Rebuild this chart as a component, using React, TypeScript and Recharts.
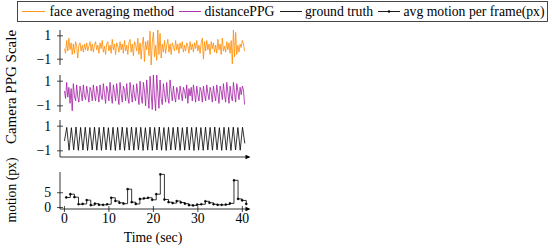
import React from "react";
import { LineChart, Line, XAxis, YAxis } from "recharts";

const FONT = "'Liberation Serif', 'Times New Roman', serif";
const FS = 13.7;

// ---- data ----
const SIGNAL_STEP = 0.25; // seconds between samples
const faceValues = [
  -0.1, -0.5, 0.6, -0.3, 0.8, -0.2, 0.4, -0.6, 0.3, -0.5, 0.5, 0.1, -0.9, 0.2, 0.4, -0.3,
  0.2, -0.4, 0.3, -0.2, 0.4, -0.3, 0.1, 0.5, -0.3, 0.3, -0.4, 0.2, 0.5, -0.2, 0.2, -0.5,
  0.4, -0.1, 0.6, -0.4, 0.1, -0.6, 0.3, 0.5, -0.3, 0.2, -0.5, 0.7, -0.2, 0.3, -0.6, 0.4,
  0.1, -0.4, 0.5, -0.2, 0.3, -0.5, 0.6, -0.3, 0.2, -0.6, 0.4, 0.7, -0.4, 0.3, -0.7, 0.5,
  0.2, -0.3, 0.8, -0.6, 0.4, -1.0, 0.3, 0.9, -1.2, 0.5, -0.2, 0.6, -0.7, 1.4, -1.5, 0.4,
  1.3, -0.8, 0.2, -1.1, 1.5, -0.6, 1.2, -0.9, 0.3, -0.4, 0.6, -0.5, 0.2, 0.7, -0.4, 0.3,
  -0.6, 0.4, 0.1, -0.3, 0.6, -0.2, 0.3, -0.5, 0.4, -0.1, 0.5, -0.4, 0.2, -0.3, 0.4, 0.1,
  -0.5, 0.5, -0.2, 0.3, -0.4, 0.4, -0.1, 0.6, -0.3, 0.2, -0.5, 0.4, 0.8, -1.0, 0.5, -0.3,
  0.6, -0.2, 0.3, -0.6, 0.5, -0.1, 0.4, -0.4, 0.2, -0.5, 0.7, -0.2, 0.3, -0.6, 0.8, -0.3,
  0.1, -0.4, 0.5, -0.2, 0.4, -0.5, 0.6, -1.4, 1.5, -0.8, 1.3, -0.6, 0.2, -0.4, 0.3, 0.0,
  0.6, 0.3, -0.3,
];
const distanceValues = [
  0.2, -0.4, 0.9, -0.3, 0.5, -0.8, 0.4, -1.4, 0.8, -0.2, -0.6, 0.7, -0.3, -0.7, 0.6, 0.1,
  -0.6, 0.7, -0.2, -0.5, 0.6, 0.0, -0.7, 0.5, 0.2, -0.6, 0.7, -0.1, -0.6, 0.6, 0.1, -0.7,
  0.7, -0.2, -0.5, 0.8, 0.0, -0.8, 0.6, 0.2, -0.6, 0.9, -0.1, -0.8, 0.7, 0.1, -0.6, 0.8,
  -0.1, -0.9, 0.9, 0.0, -0.7, 0.6, 0.3, -0.6, 0.8, -0.3, -0.8, 0.9, 0.1, -0.7, 0.7, -0.2,
  -0.6, 0.8, 0.0, -0.9, 1.0, -0.2, -0.8, 0.9, 0.2, -1.0, 1.1, -0.1, -1.2, 1.4, 0.0, -1.3,
  1.5, -0.3, -1.4, 1.5, 0.1, -1.2, 1.1, -0.4, -0.9, 0.8, 0.0, -0.7, 0.9, -0.3, -0.8, 1.1,
  0.2, -0.6, 0.6, -0.2, -0.7, 0.5, 0.1, -0.5, 0.6, 0.0, -0.6, 0.5, 0.2, -0.4, 0.7, -0.8,
  0.4, -0.2, 0.5, -0.6, 0.7, 0.0, -0.7, 0.6, -0.1, -0.6, 0.5, 0.2, -0.7, 0.6, -0.1, -0.6,
  0.7, 0.0, -0.5, 0.5, 0.1, -0.7, 0.6, -0.1, -0.6, 0.7, 0.0, -0.8, 0.6, 0.2, -0.5, 0.8,
  -0.1, -0.7, 0.9, 0.1, -0.8, 0.6, -0.2, -0.6, 0.9, 0.0, -0.7, 0.8, 0.2, -0.5, 0.5, -0.1,
  0.6, 0.3, -0.9,
];
const TRUTH_STEP = 0.52;
const truthValues = [
  -0.2, 0.9, -0.95, 0.88, -0.92, 0.93, -0.96, 0.9, -0.94, 0.91, -0.97, 0.89, -0.93, 0.92,
  -0.95, 0.9, -0.96, 0.93, -0.92, 0.88, -0.95, 0.91, -0.97, 0.9, -0.93, 0.92, -0.96, 0.89,
  -0.94, 0.93, -0.95, 0.9, -0.92, 0.91, -0.97, 0.88, -0.94, 0.92, -0.96, 0.9, -0.93, 0.93,
  -0.95, 0.89, -0.97, 0.91, -0.94, 0.9, -0.92, 0.92, -0.96, 0.88, -0.95, 0.93, -0.93, 0.9,
  -0.97, 0.91, -0.94, 0.89, -0.96, 0.92, -0.93, 0.9, -0.95, 0.93, -0.92, 0.88, -0.96, 0.91,
  -0.94, 0.9, -0.97, 0.92, -0.93, 0.89, -0.95, 0.91, -0.4,
];
const motionTimes = [
  0.4, 1.32, 2.24, 3.16, 4.08, 5.0, 5.92, 6.84, 7.76, 8.68, 9.6, 10.52, 11.44, 12.36, 13.28,
  14.2, 15.12, 16.04, 16.96, 17.88, 18.8, 19.72, 20.64, 21.56, 22.48, 23.4, 24.32, 25.24,
  26.16, 27.08, 28.0, 28.92, 29.84, 30.76, 31.68, 32.6, 33.52, 34.44, 35.36, 36.28, 37.2,
  38.12, 39.04, 39.96, 40.88,
];
const motionValues = [
  3.4, 4.5, 3.5, 1.1, 1.2, 2.5, 0.8, 1.3, 0.9, 0.9, 1.1, 3.3, 2.2, 1.6, 1.3,
  6.2, 1.8, 1.2, 2.9, 3.1, 3.3, 2.6, 4.5, 11.2, 2.7, 1.8, 1.5, 2.2,
  1.7, 1.3, 0.8, 0.7, 1.0, 1.1, 2.1, 1.6, 1.1, 0.9, 0.9, 1.0, 1.4,
  9.2, 2.9, 2.4, 1.2,
];
const timeTicks = [0, 10, 20, 30, 40];
const timeTickLabels = ["0", "10", "20", "30", "40"];
const signalTicks = [-1, 1];
const signalTickLabels = ["\u22121", "1"];
const motionTicks = [0, 5];
const motionTickLabels = ["0", "5"];
const legendLabels = ["face averaging method", "distancePPG", "ground truth", "avg motion per frame(px)"];

const faceData = faceValues.map((v, i) => ({ t: i * SIGNAL_STEP, v }));
const distanceData = distanceValues.map((v, i) => ({ t: i * SIGNAL_STEP, v }));
const truthData = truthValues.map((v, i) => ({ t: i * TRUTH_STEP, v }));
const motionData = motionTimes.map((t, i) => ({ t, v: motionValues[i] }));

// ---- layout ----
const X_DOMAIN: [number, number] = [-1, 41.5];
const AXIS_LEFT = 60;
const AXIS_RIGHT = 249;
const ORANGE = "#ff8a00";
const PURPLE = "#a51ea5";

const makeYTick = (ticks: number[], labels: string[]) => (props: any) => {
  const { x, y, payload } = props;
  const idx = ticks.indexOf(payload.value);
  return (
    <g>
      <line x1={x - 3} x2={x + 3} y1={y} y2={y} stroke="#000" strokeWidth={0.7} />
      <text x={x - 9} y={y} dy="0.34em" textAnchor="end" fontFamily={FONT} fontSize={FS} fill="#000">
        {idx >= 0 ? labels[idx] : ""}
      </text>
    </g>
  );
};

const XTick = (props: any) => {
  const { x, y, payload } = props;
  const idx = timeTicks.indexOf(payload.value);
  return (
    <g>
      <line x1={x} x2={x} y1={y - 3} y2={y + 3} stroke="#000" strokeWidth={0.7} />
      <text x={x} y={y + 13.5} textAnchor="middle" fontFamily={FONT} fontSize={FS} fill="#000">
        {idx >= 0 ? timeTickLabels[idx] : ""}
      </text>
    </g>
  );
};

const NoTick = () => <g />;

function SignalPanel({ top, bottom, data, color, showX, strokeWidth }: any) {
  const h = bottom - top;
  return (
    <div style={{ position: "absolute", left: 0, top: top - 5 }}>
      <LineChart width={552} height={h + 10} data={data} margin={{ top: 5, right: 552 - AXIS_RIGHT, bottom: showX ? 3 : 5, left: 0 }}>
        <XAxis
          type="number"
          dataKey="t"
          domain={X_DOMAIN}
          hide={!showX}
          height={2}
          ticks={timeTicks}
          interval={0}
          tick={NoTick}
          tickSize={0}
          tickLine={false}
          axisLine={{ stroke: "#000", strokeWidth: 0.8 }}
        />
        <YAxis
          type="number"
          domain={[-1.5, 1.5]}
          ticks={signalTicks}
          interval={0}
          width={AXIS_LEFT}
          tickSize={0}
          tickMargin={0}
          tickLine={false}
          axisLine={{ stroke: "#000", strokeWidth: 0.8 }}
          tick={makeYTick(signalTicks, signalTickLabels)}
        />
        <Line dataKey="v" type="linear" stroke={color} strokeWidth={strokeWidth} dot={false} isAnimationActive={false} />
      </LineChart>
    </div>
  );
}

function MotionPanel() {
  const top = 172;
  const bottom = 209;
  const h = bottom - top;
  return (
    <div style={{ position: "absolute", left: 0, top: top - 5 }}>
      <LineChart width={552} height={h + 5 + 30} data={motionData} margin={{ top: 5, right: 552 - AXIS_RIGHT, bottom: 0, left: 0 }}>
        <XAxis
          type="number"
          dataKey="t"
          domain={X_DOMAIN}
          ticks={timeTicks}
          interval={0}
          height={30}
          tickSize={0}
          tickMargin={0}
          tickLine={false}
          axisLine={{ stroke: "#000", strokeWidth: 0.8 }}
          tick={XTick}
        />
        <YAxis
          type="number"
          domain={[-0.5, 12]}
          ticks={motionTicks}
          interval={0}
          width={AXIS_LEFT}
          tickSize={0}
          tickMargin={0}
          tickLine={false}
          axisLine={{ stroke: "#000", strokeWidth: 0.8 }}
          tick={makeYTick(motionTicks, motionTickLabels)}
        />
        <Line
          dataKey="v"
          type="stepAfter"
          stroke="#000"
          strokeWidth={0.8}
          dot={{ r: 1.1, fill: "#000", stroke: "#000", strokeWidth: 0.3 }}
          isAnimationActive={false}
        />
      </LineChart>
    </div>
  );
}

function Overlay() {
  const ty = 16;
  const items = [
    { x1: 22, x2: 45, tx: 49.5, color: ORANGE, dot: false },
    { x1: 179, x2: 201, tx: 204.5, color: PURPLE, dot: false },
    { x1: 280, x2: 302, tx: 305, color: "#000", dot: false },
    { x1: 378, x2: 400, tx: 403.5, color: "#000", dot: true },
  ];
  return (
    <svg width={552} height={250} style={{ position: "absolute", left: 0, top: 0, pointerEvents: "none" }}>
      <rect x={17.5} y={1.5} width={530} height={20} fill="none" stroke="#333" strokeWidth={0.9} />
      {items.map((it, i) => (
        <g key={i}>
          <line x1={it.x1} x2={it.x2} y1={11.5} y2={11.5} stroke={it.color} strokeWidth={0.9} />
          {it.dot && <circle cx={(it.x1 + it.x2) / 2} cy={11.5} r={1.2} fill="#000" />}
          <text x={it.tx} y={ty} fontFamily={FONT} fontSize={FS} fill="#000">
            {legendLabels[i]}
          </text>
        </g>
      ))}
      <text
        x={16}
        y={87}
        transform="rotate(-90 16 87)"
        textAnchor="middle"
        fontFamily={FONT}
        fontSize={15}
        fill="#000"
      >
        Camera PPG Scale
      </text>
      <text
        x={15.5}
        y={190}
        transform="rotate(-90 15.5 190)"
        textAnchor="middle"
        fontFamily={FONT}
        fontSize={FS}
        fill="#000"
      >
        motion (px)
      </text>
      <text x={153} y={242} textAnchor="middle" fontFamily={FONT} fontSize={FS} fill="#000">
        Time (sec)
      </text>
      <path d="M 245.5 154.8 L 250.5 157 L 245.5 159.2 Z" fill="#000" />
      <path d="M 245.5 206.8 L 250.5 209 L 245.5 211.2 Z" fill="#000" />
    </svg>
  );
}

export default function App() {
  return (
    <div style={{ position: "absolute", left: 0, top: 0, width: 552, height: 250, background: "#fff", overflow: "hidden" }}>
      <SignalPanel top={30} bottom={65} data={faceData} color={ORANGE} showX={false} strokeWidth={0.8} />
      <SignalPanel top={75} bottom={112} data={distanceData} color={PURPLE} showX={false} strokeWidth={0.8} />
      <SignalPanel top={120} bottom={157} data={truthData} color="#000" showX={true} strokeWidth={0.8} />
      <MotionPanel />
      <Overlay />
    </div>
  );
}
